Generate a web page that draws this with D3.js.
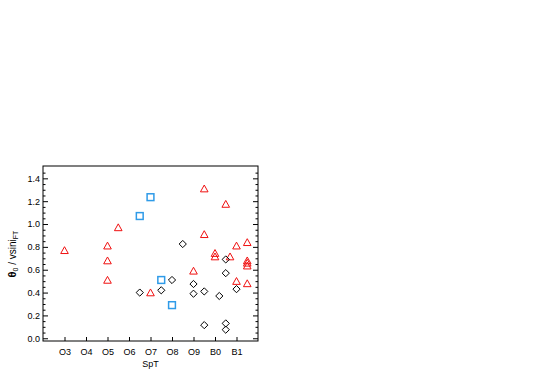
<!DOCTYPE html>
<html><head><meta charset="utf-8">
<script src="https://cdn.jsdelivr.net/npm/d3@7"></script>
<style>body{margin:0;background:#fff}svg{display:block}text{font-family:"Liberation Sans",Arial,sans-serif;fill:#000}</style>
</head><body><div id="c"></div>
<script>
// Spectral types: O3=3 ... O9=9, B0=10, B1=11
const tickValues = [3,4,5,6,7,8,9,10,11];
const tickLabels = ["O3","O4","O5","O6","O7","O8","O9","B0","B1"];
const yTicks = [0,0.2,0.4,0.6,0.8,1.0,1.2,1.4];

const triX = [3, 5, 5, 5, 5.5, 7, 9, 9.5, 9.5, 10, 10, 10.5, 10.7, 11, 11, 11.5, 11.5, 11.5, 11.5, 11.5];
const triY = [0.77, 0.81, 0.68, 0.51, 0.97, 0.40, 0.59, 1.31, 0.91, 0.745, 0.715, 1.175, 0.715, 0.81, 0.50, 0.84, 0.68, 0.66, 0.635, 0.48];

const diaX = [6.5, 7.5, 8, 8.5, 9, 9, 9.5, 9.5, 10.2, 10.5, 10.5, 10.5, 10.5, 11];
const diaY = [0.40, 0.42, 0.51, 0.825, 0.475, 0.39, 0.41, 0.115, 0.37, 0.69, 0.57, 0.13, 0.075, 0.43];

const sqX = [6.5, 7, 7.5, 8];
const sqY = [1.07, 1.235, 0.51, 0.29];

const W = 538, H = 371;
const svg = d3.select("#c").append("svg").attr("width", W).attr("height", H);
const L = 43, R = 258, T = 166, B = 341;
const x = d3.scaleLinear().domain([2, 12]).range([L, R]);
const y = d3.scaleLinear().domain([-0.024, 1.508]).range([B, T]);

// frame
svg.append("rect").attr("x", L).attr("y", T).attr("width", R - L).attr("height", B - T)
  .attr("fill", "none").attr("stroke", "#000").attr("stroke-width", 1);

// bottom axis
const xAxis = d3.axisBottom(x).tickValues(tickValues).tickFormat((d, i) => tickLabels[i])
  .tickSizeInner(-4).tickSizeOuter(0).tickPadding(8);
const gx = svg.append("g").attr("transform", `translate(0,${B})`).call(xAxis);
gx.select(".domain").remove();
gx.selectAll("text").style("font-size", "9px");

// left axis major + minor
const yMinor = d3.range(0, 1.5, 0.05).filter(v => Math.abs(Math.round(v / 0.2) * 0.2 - v) > 1e-6);
const yAxis = d3.axisLeft(y).tickValues(yTicks).tickFormat(d3.format(".1f"))
  .tickSizeInner(-5).tickSizeOuter(0).tickPadding(4);
const gy = svg.append("g").attr("transform", `translate(${L},0)`).call(yAxis);
gy.select(".domain").remove();
gy.selectAll("text").style("font-size", "9px").attr("x", -3);
const gym = svg.append("g").attr("transform", `translate(${L},0)`)
  .call(d3.axisLeft(y).tickValues(yMinor).tickFormat("").tickSizeInner(-2.5).tickSizeOuter(0));
gym.select(".domain").remove();

// right axis
const gr = svg.append("g").attr("transform", `translate(${R},0)`)
  .call(d3.axisRight(y).tickValues(yTicks).tickFormat("").tickSizeInner(-5).tickSizeOuter(0));
gr.select(".domain").remove();
const grm = svg.append("g").attr("transform", `translate(${R},0)`)
  .call(d3.axisRight(y).tickValues(yMinor).tickFormat("").tickSizeInner(-2.5).tickSizeOuter(0));
grm.select(".domain").remove();

// labels
svg.append("text").attr("x", (L + R) / 2).attr("y", 367).attr("text-anchor", "middle")
  .style("font-size", "9px").text("SpT");
const yl = svg.append("text").attr("transform", `translate(16,254) rotate(-90)`)
  .attr("text-anchor", "middle").style("font-size", "10px");
yl.append("tspan").style("font-weight", "bold").style("font-size", "11px").text("θ");
yl.append("tspan").attr("dy", 2).style("font-size", "7px").text("0");
yl.append("tspan").attr("dy", -2).text(" / vsini");
yl.append("tspan").attr("dy", 2).style("font-size", "7px").text("FT");

// markers
const s = 3.8;
const triPath = `M${-s},${s*0.85} L0,${-s*0.95} L${s},${s*0.85} Z`;
svg.append("g").selectAll("path").data(triX.map((d, i) => [d, triY[i]])).join("path")
  .attr("d", triPath).attr("transform", d => `translate(${x(d[0])},${y(d[1])})`)
  .attr("fill", "none").attr("stroke", "#f01010").attr("stroke-width", 1);

const ds = 3.6;
const diaPath = `M0,${-ds} L${ds},0 L0,${ds} L${-ds},0 Z`;
svg.append("g").selectAll("path").data(diaX.map((d, i) => [d, diaY[i]])).join("path")
  .attr("d", diaPath).attr("transform", d => `translate(${x(d[0])},${y(d[1])})`)
  .attr("fill", "none").attr("stroke", "#000").attr("stroke-width", 1);

const qs = 3.4;
svg.append("g").selectAll("rect").data(sqX.map((d, i) => [d, sqY[i]])).join("rect")
  .attr("x", d => x(d[0]) - qs).attr("y", d => y(d[1]) - qs)
  .attr("width", qs * 2).attr("height", qs * 2)
  .attr("fill", "none").attr("stroke", "#2f9be8").attr("stroke-width", 1.5);
</script></body></html>
